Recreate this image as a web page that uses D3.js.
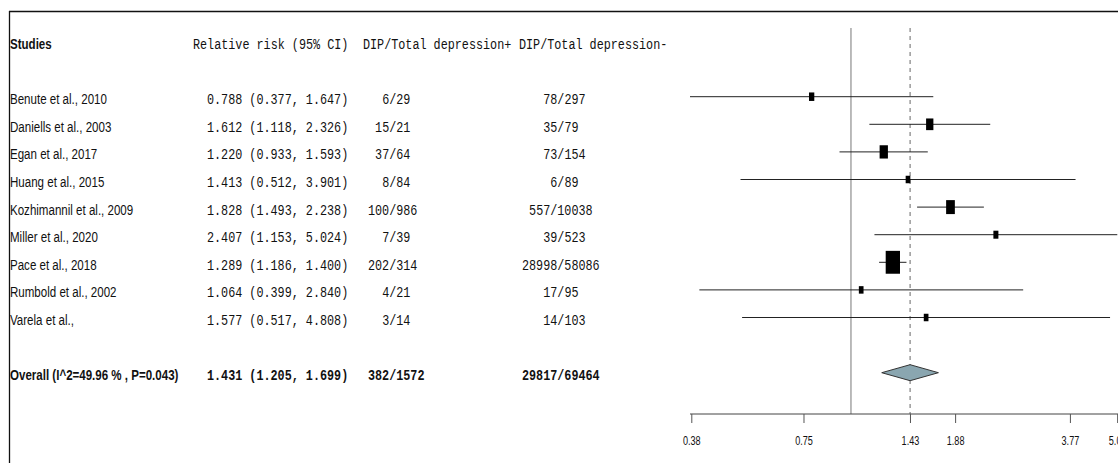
<!DOCTYPE html>
<html>
<head>
<meta charset="utf-8">
<script src="https://cdn.jsdelivr.net/npm/d3@7"></script>
<style>
  body { margin: 0; background: #fff; }
  svg { display: block; }
</style>
</head>
<body>
<svg id="chart" width="1118" height="463"></svg>
<script>
// ---- data ----
const studies = [
  "Benute et al., 2010", "Daniells et al., 2003", "Egan et al., 2017",
  "Huang et al., 2015", "Kozhimannil et al., 2009", "Miller et al., 2020",
  "Pace et al., 2018", "Rumbold et al., 2002", "Varela et al.,"
];
const rr    = [0.788, 1.612, 1.220, 1.413, 1.828, 2.407, 1.289, 1.064, 1.577];
const lower = [0.377, 1.118, 0.933, 0.512, 1.493, 1.153, 1.186, 0.399, 0.517];
const upper = [1.647, 2.326, 1.593, 3.901, 2.238, 5.024, 1.400, 2.840, 4.808];
const dipPos = ["6/29", "15/21", "37/64", "8/84", "100/986", "7/39", "202/314", "4/21", "3/14"];
const dipNeg = ["78/297", "35/79", "73/154", "6/89", "557/10038", "39/523", "28998/58086", "17/95", "14/103"];
// study weights (%), used for box size
const weights = [5.4, 10.2, 13.2, 4.2, 14.6, 4.8, 39.2, 4.2, 4.2];

const overallLabel = "Overall (I^2=49.96 % , P=0.043)";
const overallRR = [1.431, 1.205, 1.699];          // estimate, lower, upper
const overallCounts = ["382/1572", "29817/69464"];

const headers = ["Studies", "Relative risk (95% CI)", "DIP/Total depression+", "DIP/Total depression-"];
const tickValues = [0.38, 0.75, 1.43, 1.88, 3.77, 5.02];

// ---- layout ----
const svg = d3.select("#chart");
const W = 1118, H = 463;

const SANS = "'Liberation Sans', Arial, sans-serif";
const MONO = "'Liberation Mono', 'Courier New', monospace";
const sansSize = 15, sansScale = 0.77;
const monoSize = 15.5, monoScale = 0.76;
const charW = monoSize * 0.6 * monoScale;

// row index -> vertical centre (header = -2, studies 0..8, overall = 10)
const y = d3.scaleLinear().domain([0, 1]).range([96.7, 124.3]);
const overallRow = studies.length + 1;
const baseOff = 7.5;

// log scale for relative risk
const x = d3.scaleLog().domain([0.377, 5.024]).range([690, 1117.3]);
const axisY = 414, refTop = 28;

// frame
svg.append("line").attr("x1", 9).attr("x2", W).attr("y1", 11.5).attr("y2", 11.5)
  .attr("stroke", "#111").attr("stroke-width", 1.3);
svg.append("line").attr("x1", 9.5).attr("x2", 9.5).attr("y1", 11).attr("y2", H)
  .attr("stroke", "#111").attr("stroke-width", 1.3);

function txt(s, px, py, font, size, scale, weight) {
  return svg.append("text")
    .attr("transform", `translate(${px},${py}) scale(${scale},1)`)
    .attr("font-family", font).attr("font-size", size)
    .attr("font-weight", weight || "normal")
    .attr("fill", "#111")
    .style("white-space", "pre")
    .text(s);
}
const sans = (s, px, py, w) => txt(s, px, py, SANS, sansSize, sansScale, w);
const mono = (s, px, py, w) => txt(s, px, py, MONO, monoSize, monoScale, w);

// centre a string on a fixed-width character grid
function padX(start, s, width, roundUp) {
  const p = (width - s.length) / 2;
  return start + (roundUp ? Math.ceil(p) : Math.floor(p)) * charW;
}

const colName = 10, colRR = 207, colPos = 368, colNeg = 522;
const fmtCI = (e, l, u) => `${e.toFixed(3)} (${l.toFixed(3)}, ${u.toFixed(3)})`;

// header
const hy = y(-2) + baseOff;
sans(headers[0], colName, hy, "bold");
mono(headers[1], 193, hy);
mono(headers[2], 363, hy);
mono(headers[3], 519, hy);

// study rows (text)
studies.forEach((s, i) => {
  const ty = y(i) + baseOff;
  sans(s, colName, ty);
  mono(fmtCI(rr[i], lower[i], upper[i]), colRR, ty);
  mono(dipPos[i], padX(colPos, dipPos[i], 8, false), ty);
  mono(dipNeg[i], padX(colNeg, dipNeg[i], 11, true), ty);
});

// overall row (text)
const oy = y(overallRow) + baseOff;
sans(overallLabel, colName, oy, "bold");
mono(fmtCI(overallRR[0], overallRR[1], overallRR[2]), colRR, oy, "bold");
mono(overallCounts[0], padX(colPos, overallCounts[0], 8, false), oy, "bold");
mono(overallCounts[1], padX(colNeg, overallCounts[1], 11, true), oy, "bold");

// reference lines: null effect and pooled estimate
svg.append("line")
  .attr("x1", x(1)).attr("x2", x(1)).attr("y1", refTop).attr("y2", axisY)
  .attr("stroke", "#aaa").attr("stroke-width", 1.6);
svg.append("line")
  .attr("x1", x(overallRR[0])).attr("x2", x(overallRR[0])).attr("y1", refTop).attr("y2", axisY)
  .attr("stroke", "#666").attr("stroke-width", 1).attr("stroke-dasharray", "4,4");

// confidence intervals
const plot = svg.append("g");
plot.selectAll("line.ci").data(studies).join("line")
  .attr("class", "ci")
  .attr("x1", (d, i) => x(lower[i])).attr("x2", (d, i) => x(upper[i]))
  .attr("y1", (d, i) => y(i)).attr("y2", (d, i) => y(i))
  .attr("stroke", "#222").attr("stroke-width", 1);

// boxes sized by weight
const boxW = d3.scaleSqrt().domain([0, d3.max(weights)]).range([0, 14.3]);
const aspect = 1.6;
plot.selectAll("rect.box").data(studies).join("rect")
  .attr("class", "box")
  .attr("x", (d, i) => x(rr[i]) - boxW(weights[i]) / 2)
  .attr("y", (d, i) => y(i) - boxW(weights[i]) * aspect / 2)
  .attr("width", (d, i) => boxW(weights[i]))
  .attr("height", (d, i) => boxW(weights[i]) * aspect)
  .attr("fill", "#000");

// pooled estimate diamond
const dy = y(overallRow), dh = 8;
svg.append("polygon")
  .attr("points", [
    [x(overallRR[1]), dy], [x(overallRR[0]), dy - dh],
    [x(overallRR[2]), dy], [x(overallRR[0]), dy + dh]
  ].map(p => p.join(",")).join(" "))
  .attr("fill", "#8aa6b0").attr("stroke", "#333").attr("stroke-width", 1);

// axis
const axis = d3.axisBottom(x)
  .tickValues(tickValues)
  .tickFormat(d3.format(".2f"))
  .tickSize(9).tickSizeOuter(0).tickPadding(13);
const ag = svg.append("g").attr("transform", `translate(0,${axisY})`).call(axis);
ag.select(".domain").attr("stroke", "#444").attr("d", `M${x.range()[0]},0H${W}`);
ag.selectAll(".tick line").attr("stroke", "#555");
ag.selectAll(".tick text")
  .attr("font-family", SANS).attr("font-size", 13).attr("fill", "#111")
  .attr("transform", "scale(0.7,1)");
</script>
</body>
</html>
